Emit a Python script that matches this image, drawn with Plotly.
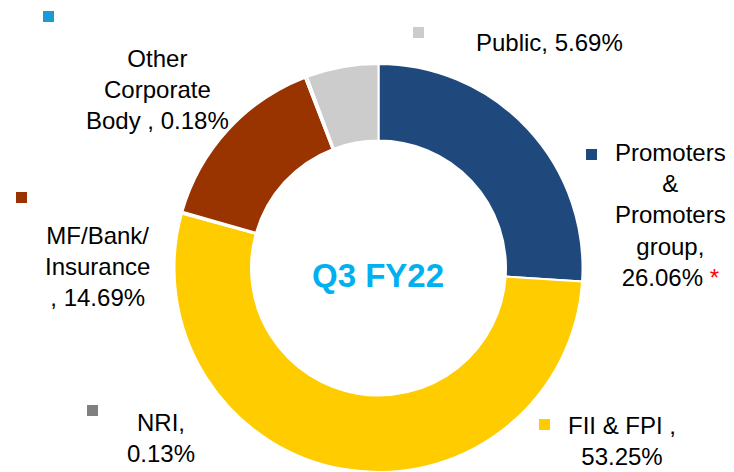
import plotly.graph_objects as go

# ---- data ----
categories = ["Promoters & Promoters group", "FII & FPI", "NRI",
              "MF/Bank/Insurance", "Other Corporate Body", "Public"]
values = [26.06, 53.25, 0.13, 14.69, 0.18, 5.69]
colors = ["#1F497D", "#FFCC00", "#808080", "#993300", "#1A9AD6", "#CCCCCC"]
label_templates = [
    "Promoters<br>&<br>Promoters<br>group,<br>{v:.2f}% <span style='color:#FF0000'>*</span>",
    "FII & FPI ,<br>{v:.2f}%",
    "NRI,<br>{v:.2f}%",
    "MF/Bank/<br>Insurance<br>, {v:.2f}%",
    "Other<br>Corporate<br>Body , {v:.2f}%",
    "Public, {v:.2f}%",
]
center_title = "Q3 FY22"

# ---- layout helpers (pixel positions of labels / legend squares) ----
W, H = 734, 472
label_pos = [(670, 215), (622, 441), (161, 438), (97, 266), (157, 90), (549, 43)]
square_pos = [(586, 149), (539, 419), (87, 405), (16, 192), (43, 11), (413, 27)]
SQ = 11

fig = go.Figure()
cx, cy_top, r = 378.5, 268, 204
fig.add_trace(go.Pie(
    labels=categories, values=values, sort=False, direction="clockwise",
    rotation=0, hole=0.625, textinfo="none", showlegend=False,
    marker=dict(colors=colors, line=dict(color="white", width=2)),
    domain=dict(x=[(cx - r) / W, (cx + r) / W],
                y=[1 - (cy_top + r) / H, 1 - (cy_top - r) / H]),
))

font = dict(family="Liberation Sans, Arial, sans-serif", size=24, color="#000000")
annotations = []
shapes = []
for tpl, v, (px, py), (sx, sy), col in zip(label_templates, values, label_pos, square_pos, colors):
    annotations.append(dict(
        text=tpl.format(v=v), x=px / W, y=1 - py / H, xref="paper", yref="paper",
        xanchor="center", yanchor="middle", align="center", showarrow=False, font=font))
    shapes.append(dict(type="rect", xref="paper", yref="paper",
                       x0=sx / W, x1=(sx + SQ) / W, y0=1 - (sy + SQ) / H, y1=1 - sy / H,
                       fillcolor=col, line=dict(width=0)))

annotations.append(dict(
    text="<b>" + center_title + "</b>", x=377.5 / W, y=1 - 275 / H, xref="paper", yref="paper",
    xanchor="center", yanchor="middle", showarrow=False,
    font=dict(family="Liberation Sans, Arial, sans-serif", size=33, color="#00B0F0")))

fig.update_layout(
    width=W, height=H, margin=dict(l=0, r=0, t=0, b=0),
    paper_bgcolor="white", plot_bgcolor="white",
    annotations=annotations, shapes=shapes,
)
fig.write_html(
    "out.html",
    config={"displayModeBar": False},
    post_script="document.body.style.margin='0px';document.body.style.overflow='hidden';",
)
